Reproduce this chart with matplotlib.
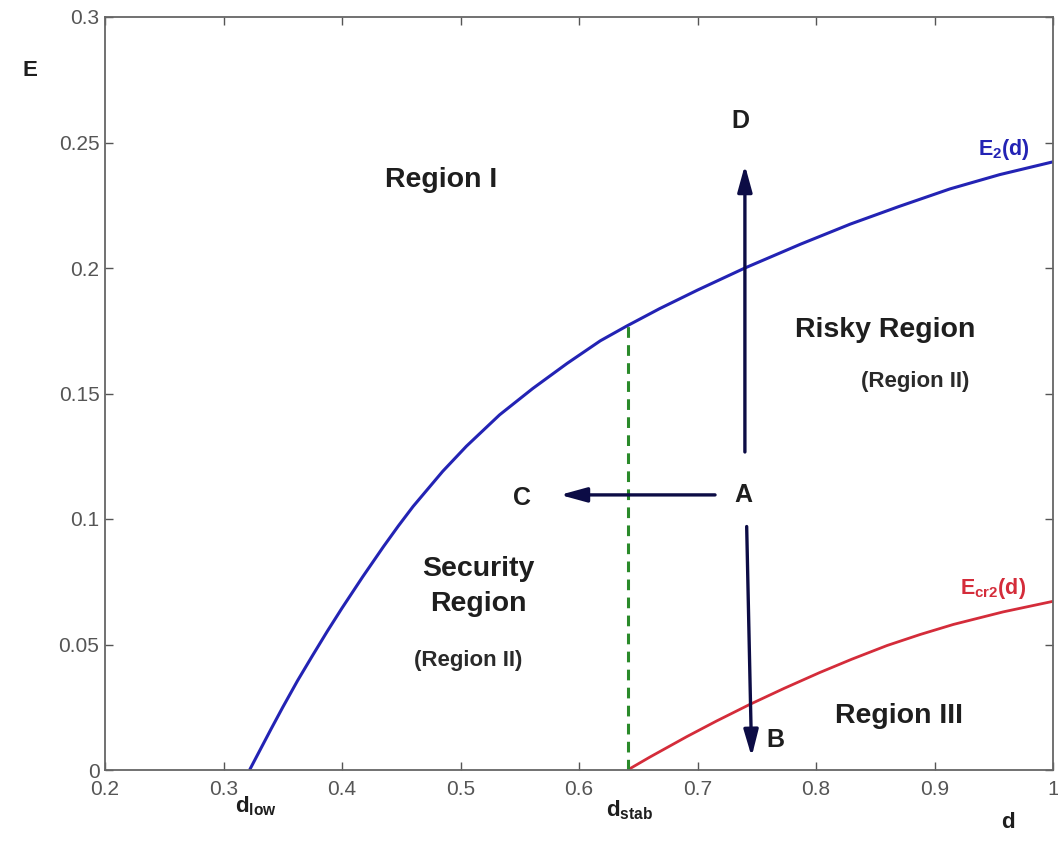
import matplotlib
matplotlib.use("Agg")
import matplotlib.pyplot as plt

plt.rcParams["font.family"] = ["Liberation Sans", "DejaVu Sans"]
plt.rcParams["mathtext.fontset"] = "custom"
plt.rcParams["mathtext.rm"] = "Liberation Sans"
plt.rcParams["mathtext.bf"] = "Liberation Sans:bold"

# E2(d) boundary
e2_d = [0.322, 0.330, 0.340, 0.350, 0.3625, 0.375, 0.3875, 0.400, 0.4175, 0.435,
        0.4475, 0.460, 0.485, 0.505, 0.533, 0.561, 0.590, 0.618, 0.640, 0.668,
        0.700, 0.740, 0.787, 0.829, 0.870, 0.913, 0.955, 1.000]
e2_E = [0.000, 0.0072, 0.0162, 0.0250, 0.0356, 0.0455, 0.0552, 0.0645, 0.0770, 0.0890,
        0.0972, 0.1050, 0.1190, 0.1290, 0.1415, 0.1520, 0.1620, 0.1710, 0.1768, 0.1838,
        0.1912, 0.2000, 0.2095, 0.2175, 0.2245, 0.2315, 0.2372, 0.2423]

# Ecr2(d) boundary
ecr_d = [0.641, 0.660, 0.691, 0.716, 0.744, 0.773, 0.803, 0.830, 0.860, 0.888,
         0.916, 0.958, 1.000]
ecr_E = [0.000, 0.0052, 0.0133, 0.0195, 0.0261, 0.0325, 0.0388, 0.0441, 0.0496, 0.0540,
         0.0580, 0.0630, 0.0672]

d_stab = 0.641
E_stab = 0.1770

x_ticks = [0.2, 0.3, 0.4, 0.5, 0.6, 0.7, 0.8, 0.9, 1.0]
x_labels = ["0.2", "0.3", "0.4", "0.5", "0.6", "0.7", "0.8", "0.9", "1"]
y_ticks = [0, 0.05, 0.1, 0.15, 0.2, 0.25, 0.3]
y_labels = ["0", "0.05", "0.1", "0.15", "0.2", "0.25", "0.3"]

# arrows (start, end) from operating point A
arrows = [
    ((0.740, 0.1267), (0.740, 0.241)),   # A -> D
    ((0.7415, 0.097), (0.7457, 0.0053)), # A -> B
    ((0.7148, 0.1096), (0.584, 0.1096)), # A -> C
]
points = {"A": (0.7384, 0.1096), "B": (0.7654, 0.012),
          "C": (0.552, 0.1084), "D": (0.7359, 0.2585)}

W, H = 1058, 842
fig = plt.figure(figsize=(W / 100, H / 100), dpi=100)
ax = fig.add_axes([105 / W, 1 - 770 / H, (1053 - 105) / W, (770 - 17) / H])

BLUE = "#2323b4"
RED = "#d42c3a"
GREEN = "#2a8a2a"
NAVY = "#0c0c45"
TXT = "#1e1e1e"

ax.plot(e2_d, e2_E, color=BLUE, lw=2.2, solid_capstyle="butt", solid_joinstyle="round")
ax.plot(ecr_d, ecr_E, color=RED, lw=2.0, solid_capstyle="butt", solid_joinstyle="round")
ax.plot([d_stab, d_stab], [0, E_stab], color=GREEN, lw=2.2,
        linestyle=(0, (3.5, 2.4)))

for (x0, y0), (x1, y1) in arrows:
    ax.annotate("", xy=(x1, y1), xytext=(x0, y0),
                arrowprops=dict(arrowstyle="-|>,head_length=0.8,head_width=0.22",
                                color=NAVY, lw=2.4, mutation_scale=20,
                                shrinkA=0, shrinkB=0))

for name, (x, y) in points.items():
    ax.text(x, y, name, fontsize=18, fontweight="bold", color=TXT,
            ha="center", va="center")

big = dict(fontsize=20.5, fontweight="bold", color=TXT, ha="center", va="center")
small = dict(fontsize=16, fontweight="bold", color="#2a2a2a", ha="center", va="center")
ax.text(0.484, 0.235, "Region I", **big)
ax.text(0.8587, 0.1753, "Risky Region", **big)
ax.text(0.8835, 0.1546, "(Region II)", **small)
ax.text(0.5152, 0.0733, "Security\nRegion", linespacing=1.45, **big)
ax.text(0.5063, 0.0438, "(Region II)", **small)
ax.text(0.870, 0.0215, "Region III", **big)

ax.text(0.9587, 0.2474, r"$\mathbf{E_{2}(d)}$", fontsize=15.5, color=BLUE,
        ha="center", va="center")
ax.text(0.949, 0.0725, r"$\mathbf{E_{cr2}(d)}$", fontsize=15.5, color=RED,
        ha="center", va="center")

ax.set_xlim(0.2, 1.0)
ax.set_ylim(0, 0.3)
ax.set_xticks(x_ticks)
ax.set_xticklabels(x_labels)
ax.set_yticks(y_ticks)
ax.set_yticklabels(y_labels)
ax.tick_params(direction="in", length=6, width=1.0, color="#555555",
               labelsize=15, labelcolor="#555555", top=True, right=True)
ax.tick_params(axis="x", pad=7)
ax.tick_params(axis="y", pad=4)
for sp in ax.spines.values():
    sp.set_color("#666666")
    sp.set_linewidth(1.3)

# axis annotations outside the box
fig.text(30 / W, 1 - 70 / H, "E", fontsize=16, fontweight="bold", color=TXT,
         ha="center", va="center")
fig.text(1008 / W, 1 - 822 / H, "d", fontsize=16, fontweight="bold", color=TXT,
         ha="center", va="center")
fig.text(256 / W, 1 - 806 / H, r"$\mathbf{d_{low}}$", fontsize=16, color=TXT,
         ha="center", va="center")
fig.text(630 / W, 1 - 810 / H, r"$\mathbf{d_{stab}}$", fontsize=16, color=TXT,
         ha="center", va="center")

fig.savefig("out.png", dpi=100)
